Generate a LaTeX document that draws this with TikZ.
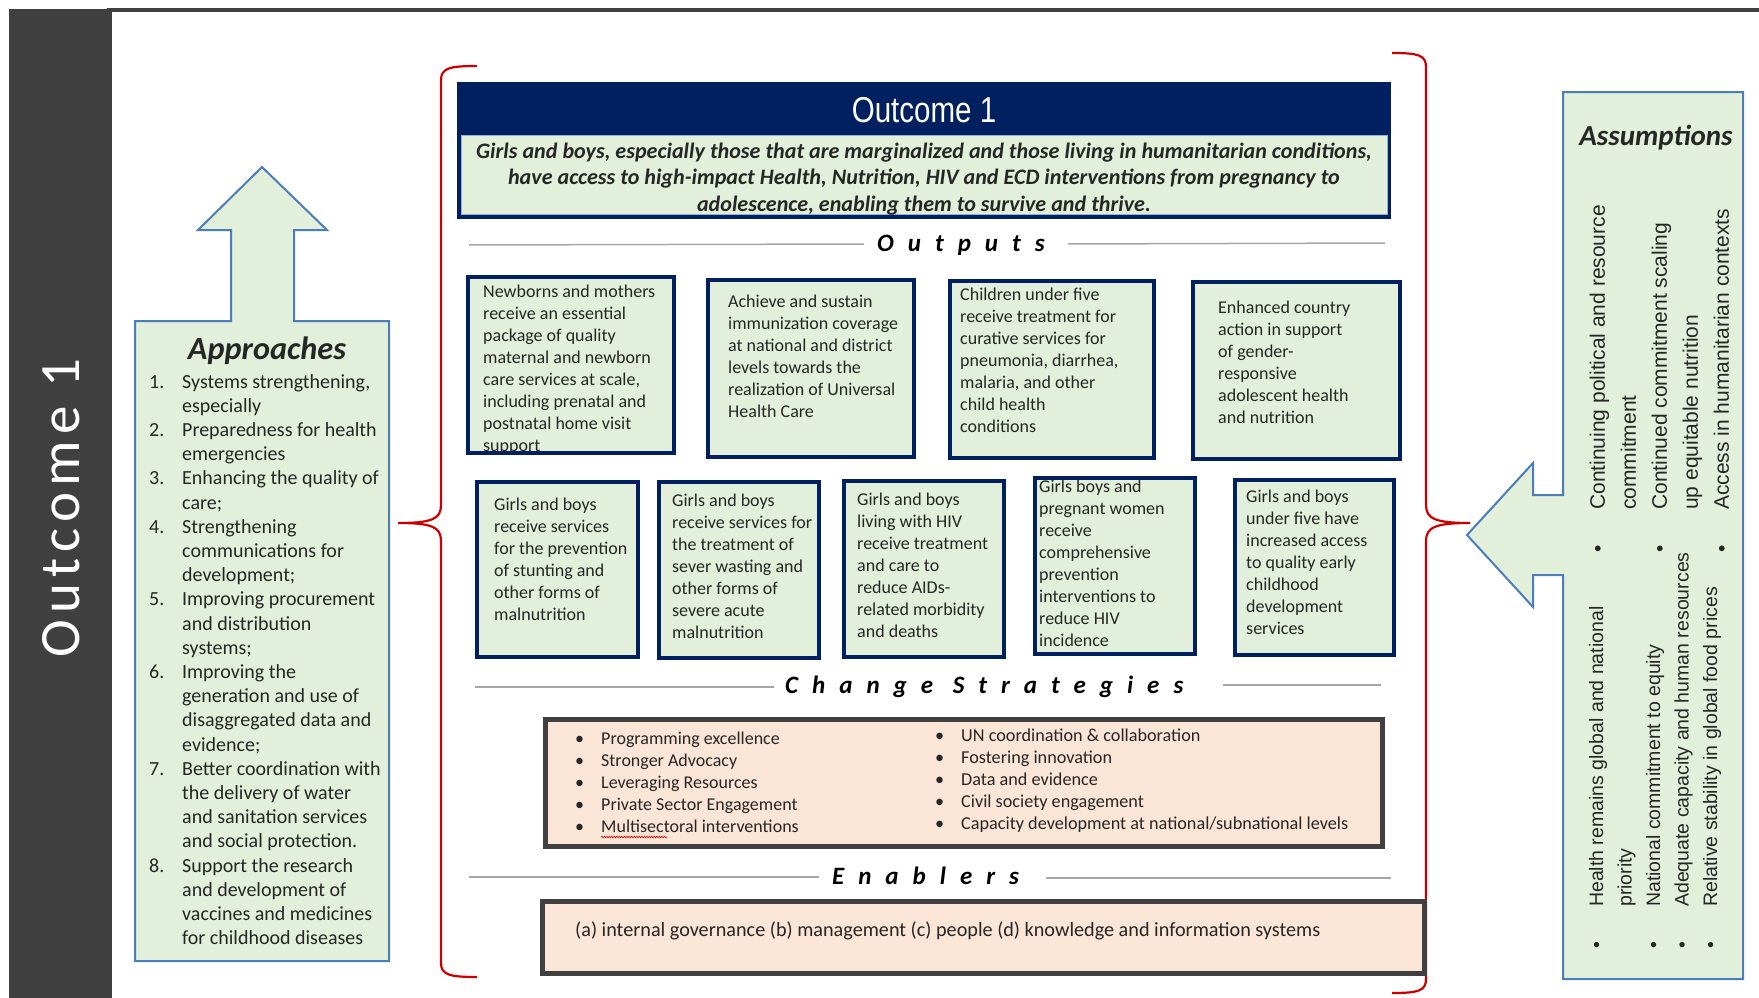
\documentclass[tikz,border=0pt]{standalone}
\usepackage{fontspec}
\setmainfont{Carlito}
\newfontfamily\arialfont{Liberation Sans}
\newfontfamily\narrowfont[FakeStretch=0.82]{Liberation Sans}
\newfontfamily\spacedfont[LetterSpace=56]{Carlito}
\newfontfamily\sidefont[LetterSpace=11]{Carlito}
\usepackage{tikz}
\usepackage{xcolor}
\usetikzlibrary{positioning, calc, decorations.pathmorphing}

\definecolor{navy}{HTML}{002060}
\definecolor{leafgreen}{HTML}{E2EFDA}
\definecolor{arrowblue}{HTML}{4A7EBB}
\definecolor{peach}{HTML}{FBE5D6}
\definecolor{charcoal}{HTML}{404040}
\definecolor{bracered}{HTML}{CC0000}
\definecolor{rulegray}{HTML}{A6A6A6}

\begin{document}
\begin{tikzpicture}[
    x=1pt, y=-1pt,
    every node/.style={text=black!85},
    outbox/.style={draw=navy, line width=4pt, fill=leafgreen, anchor=north west, inner sep=0},
    outtext/.style={anchor=north west, inner sep=0, align=left, font=\fontsize{18}{22}\selectfont},
    peachbox/.style={draw=charcoal, line width=4.5pt, fill=peach, anchor=north west, inner sep=0},
    heading/.style={anchor=base west, inner sep=0, text=black, font=\spacedfont\bfseries\itshape\fontsize{25}{30}\selectfont},
    sepline/.style={draw=rulegray, line width=1.5pt},
    bigarrow/.style={draw=arrowblue, line width=2pt, fill=leafgreen, line join=miter},
    brace/.style={draw=bracered, line width=2.2pt}
]
    \useasboundingbox (0,0) rectangle (1759,998);

    % Side band
    \fill[charcoal] (9,9) rectangle (112,998);
    \draw[charcoal, line width=4pt] (107,10) -- (1759,10);
    \node[rotate=90, text=white, font=\sidefont\fontsize{57}{60}\selectfont] (side) at (61,508) {Outcome 1};

    % Braces
    \draw[brace] (477,66) .. controls (450,66) and (441,68) .. (441,80) -- (441,505)
        .. controls (441,519) and (432,523) .. (398,523)
        .. controls (432,523) and (441,527) .. (441,541) -- (441,963)
        .. controls (441,975) and (450,977) .. (477,977);
    \draw[brace] (1392,53) .. controls (1418,53) and (1426,55) .. (1426,67) -- (1426,505)
        .. controls (1426,519) and (1436,523) .. (1470,523)
        .. controls (1436,523) and (1426,527) .. (1426,541) -- (1426,979)
        .. controls (1426,991) and (1418,993) .. (1392,993);

    % Approaches
    \draw[bigarrow] (135,321) -- (231,321) -- (231,230) -- (198,230) -- (262,167) -- (327,230)
        -- (294,230) -- (294,321) -- (389,321) -- (389,961) -- (135,961) -- cycle;
    \node[font=\bfseries\itshape\fontsize{32.3}{37}\selectfont] (apptitle) at (267,351) {Approaches};
    \node[anchor=north west, inner sep=0, font=\fontsize{20}{24.2}\selectfont] (applist) at (149,371) {%
        \begin{tabular}{@{}p{33pt}@{}l@{}}
        1. & Systems strengthening,\\
           & especially\\
        2. & Preparedness for health\\
           & emergencies\\
        3. & Enhancing the quality of\\
           & care;\\
        4. & Strengthening\\
           & communications for\\
           & development;\\
        5. & Improving procurement\\
           & and distribution\\
           & systems;\\
        6. & Improving the\\
           & generation and use of\\
           & disaggregated data and\\
           & evidence;\\
        7. & Better coordination with\\
           & the delivery of water\\
           & and sanitation services\\
           & and social protection.\\
        8. & Support the research\\
           & and development of\\
           & vaccines and medicines\\
           & for childhood diseases
        \end{tabular}};

    % Outcome header
    \node[fill=navy, minimum width=934pt, minimum height=137pt, anchor=north west, inner sep=0] (outhead) at (457,82) {};
    \node[text=white, font=\narrowfont\fontsize{36}{40}\selectfont] (outtitle) at (924,110) {Outcome 1};
    \node[fill=leafgreen, draw=arrowblue!60, line width=0.8pt, minimum width=926pt, minimum height=79pt, inner sep=0] (outgoal) at (924,175) {};
    \node[align=center, inner sep=0, font=\bfseries\itshape\fontsize{22.1}{26.4}\selectfont] (goaltext) at (924,179)
        {Girls and boys, especially those that are marginalized and those living in humanitarian conditions,\\
         have access to high-impact Health, Nutrition, HIV and ECD interventions from pregnancy to\\
         adolescence, enabling them to survive and thrive.};

    % Outputs
    \node[heading] (outputs) at (877,251) {Outputs};
    \draw[sepline] (469,245) -- (864,244);
    \draw[sepline] (1068,244) -- (1385,243);

    \node[outbox, minimum width=206pt, minimum height=176pt] (o1) at (466,275) {};
    \node[outtext] (o1t) at ([shift={(17,10)}]o1.north west) {Newborns and mothers\\receive an essential\\package of quality\\maternal and newborn\\care services at scale,\\including prenatal and\\postnatal home visit\\support};
    \node[outbox, minimum width=206pt, minimum height=177pt] (o2) at (706,278) {};
    \node[outtext] (o2t) at ([shift={(22,17)}]o2.north west) {Achieve and sustain\\immunization coverage\\at national and district\\levels towards the\\realization of Universal\\Health Care};
    \node[outbox, minimum width=204pt, minimum height=177pt] (o3) at (948,279) {};
    \node[outtext] (o3t) at ([shift={(12,9)}]o3.north west) {Children under five\\receive treatment for\\curative services for\\pneumonia, diarrhea,\\malaria, and other\\child health\\conditions};
    \node[outbox, minimum width=207pt, minimum height=177pt] (o4) at (1191,280) {};
    \node[outtext] (o4t) at ([shift={(27,21)}]o4.north west) {Enhanced country\\action in support\\of gender-\\responsive\\adolescent health\\and nutrition};

    \node[outbox, minimum width=161pt, minimum height=175pt] (p1) at (475,480) {};
    \node[outtext] (p1t) at ([shift={(19,18)}]p1.north west) {Girls and boys\\receive services\\for the prevention\\of stunting and\\other forms of\\malnutrition};
    \node[outbox, minimum width=160pt, minimum height=176pt] (p2) at (657,480) {};
    \node[outtext] (p2t) at ([shift={(15,14)}]p2.north west) {Girls and boys\\receive services for\\the treatment of\\sever wasting and\\other forms of\\severe acute\\malnutrition};
    \node[outbox, minimum width=160pt, minimum height=176pt] (p3) at (842,479) {};
    \node[outtext] (p3t) at ([shift={(15,14)}]p3.north west) {Girls and boys\\living with HIV\\receive treatment\\and care to\\reduce AIDs-\\related morbidity\\and deaths};
    \node[outbox, minimum width=160pt, minimum height=176pt] (p4) at (1033,476) {};
    \node[outtext] (p4t) at ([shift={(6,4)}]p4.north west) {Girls boys and\\pregnant women\\receive\\comprehensive\\prevention\\interventions to\\reduce HIV\\incidence};
    \node[outbox, minimum width=159pt, minimum height=175pt] (p5) at (1233,478) {};
    \node[outtext] (p5t) at ([shift={(13,12)}]p5.north west) {Girls and boys\\under five have\\increased access\\to quality early\\childhood\\development\\services};

    % Change strategies
    \node[heading] (strategies) at (785,693) {Change Strategies};
    \draw[sepline] (475,687) -- (774,687);
    \draw[sepline] (1223,685) -- (1381,685);
    \node[peachbox, minimum width=837pt, minimum height=127pt] (strat) at (543,717) {};
    \node[anchor=north west, inner sep=0, font=\fontsize{18}{22}\selectfont] (stratl) at (575,729) {%
        \begin{tabular}{@{}p{26pt}@{}l@{}}
        \textbullet & Programming excellence\\
        \textbullet & Stronger Advocacy\\
        \textbullet & Leveraging Resources\\
        \textbullet & Private Sector Engagement\\
        \textbullet & Multisectoral interventions
        \end{tabular}};
    \node[anchor=north west, inner sep=0, font=\fontsize{18.2}{22}\selectfont] (stratr) at (935,726) {%
        \begin{tabular}{@{}p{26pt}@{}l@{}}
        \textbullet & UN coordination \& collaboration\\
        \textbullet & Fostering innovation\\
        \textbullet & Data and evidence\\
        \textbullet & Civil society engagement\\
        \textbullet & Capacity development at national/subnational levels
        \end{tabular}};
    \draw[bracered, line width=0.6pt, decorate, decoration={snake, amplitude=0.8pt, segment length=2.5pt}] (601,837) -- (667,837);

    % Enablers
    \node[heading] (enablers) at (832,884) {Enablers};
    \draw[sepline] (469,877) -- (819,877);
    \draw[sepline] (1046,878) -- (1391,878);
    \node[peachbox, minimum width=882pt, minimum height=72pt] (enab) at (540,899) {};
    \node[anchor=base west, inner sep=0, font=\fontsize{20.2}{24}\selectfont] (enabt) at (575,936) {(a) internal governance (b) management (c) people (d) knowledge and information systems};

    % Assumptions
    \draw[bigarrow] (1563,92) -- (1743,92) -- (1743,979) -- (1563,979) -- (1563,575) -- (1533,575)
        -- (1533,607) -- (1467,535) -- (1533,463) -- (1533,495) -- (1563,495) -- cycle;
    \node[font=\bfseries\itshape\fontsize{29}{34}\selectfont] (asstitle) at (1656,138) {Assumptions};
    \node[rotate=90, anchor=north west, inner sep=0, font=\arialfont\fontsize{21}{31}\selectfont] (assup) at (1583,553) {%
        \begin{tabular}{@{}p{43pt}@{}l@{}}
        \textbullet & Continuing political and resource\\
                    & commitment\\
        \textbullet & Continued commitment scaling\\
                    & up equitable nutrition\\
        \textbullet & Access in humanitarian contexts
        \end{tabular}};
    \node[rotate=90, anchor=north west, inner sep=0, font=\arialfont\fontsize{19.5}{28.5}\selectfont] (asslow) at (1583,949) {%
        \begin{tabular}{@{}p{42pt}@{}l@{}}
        \textbullet & Health remains global and national\\
                    & priority\\
        \textbullet & National commitment to equity\\
        \textbullet & Adequate capacity and human resources\\
        \textbullet & Relative stability in global food prices
        \end{tabular}};
\end{tikzpicture}
\end{document}
